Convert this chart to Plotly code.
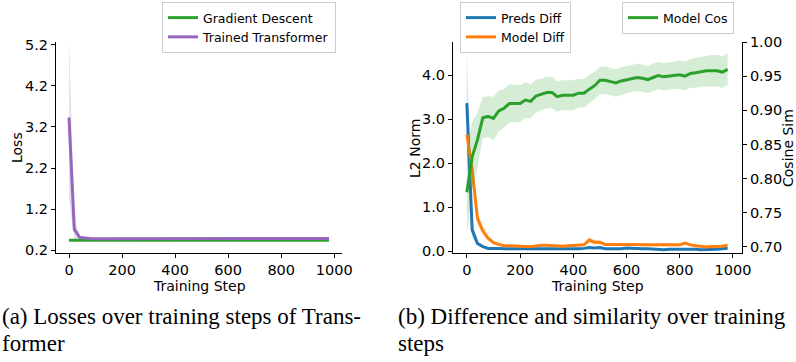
import plotly.graph_objects as go

steps = list(range(0, 1000, 20))

# Left panel: losses
gd_loss = [0.44] * 50
tt_loss = [3.43, 0.71, 0.51, 0.49, 0.485, 0.48, 0.48, 0.48, 0.48, 0.48,
           0.48, 0.48, 0.478, 0.478, 0.478, 0.478, 0.478, 0.478, 0.478, 0.48,
           0.48, 0.482, 0.485, 0.487, 0.488, 0.488, 0.485, 0.483, 0.482, 0.482,
           0.485, 0.487, 0.485, 0.483, 0.482, 0.48, 0.48, 0.48, 0.48, 0.48,
           0.482, 0.483, 0.483, 0.482, 0.482, 0.482, 0.483, 0.483, 0.483, 0.483]
tt_std = [2.0, 0.25, 0.06, 0.03, 0.02] + [0.015] * 45

# Right panel: L2 norms
preds_diff = [3.36, 0.48, 0.17, 0.10, 0.06, 0.065, 0.06, 0.05, 0.05, 0.05,
              0.04, 0.04, 0.04, 0.05, 0.05, 0.05, 0.04, 0.04, 0.05, 0.05,
              0.05, 0.05, 0.06, 0.08, 0.07, 0.08, 0.05, 0.05, 0.06, 0.05,
              0.07, 0.06, 0.05, 0.05, 0.05, 0.04, 0.03, 0.03, 0.04, 0.04,
              0.05, 0.05, 0.04, 0.04, 0.03, 0.03, 0.03, 0.04, 0.05, 0.06]
preds_std = [1.17, 0.18, 0.05, 0.03, 0.02] + [0.015] * 45
model_diff = [2.65, 1.85, 0.74, 0.46, 0.29, 0.19, 0.15, 0.12, 0.12, 0.11,
              0.11, 0.10, 0.10, 0.12, 0.13, 0.13, 0.12, 0.11, 0.11, 0.12,
              0.13, 0.13, 0.14, 0.25, 0.20, 0.20, 0.15, 0.15, 0.15, 0.15,
              0.16, 0.15, 0.15, 0.14, 0.14, 0.13, 0.13, 0.13, 0.13, 0.14,
              0.14, 0.18, 0.14, 0.12, 0.10, 0.09, 0.10, 0.10, 0.11, 0.13]
model_std = [0.06, 0.25, 0.15, 0.10, 0.06, 0.04, 0.03, 0.03, 0.03, 0.03,
             0.03, 0.03, 0.03, 0.03, 0.03, 0.03, 0.03, 0.03, 0.03, 0.03,
             0.03, 0.03, 0.03, 0.06, 0.06, 0.05, 0.03, 0.03, 0.03, 0.03,
             0.03, 0.03, 0.03, 0.03, 0.03, 0.03, 0.03, 0.03, 0.03, 0.03,
             0.03, 0.04, 0.03, 0.03, 0.03, 0.03, 0.03, 0.03, 0.03, 0.03]

# Right panel: cosine similarity
model_cos = [0.78, 0.832, 0.857, 0.889, 0.891, 0.888, 0.899, 0.903, 0.91, 0.91,
             0.91, 0.915, 0.913, 0.921, 0.923, 0.926, 0.926, 0.92, 0.922, 0.922,
             0.922, 0.925, 0.925, 0.931, 0.936, 0.944, 0.944, 0.942, 0.94, 0.943,
             0.945, 0.947, 0.948, 0.947, 0.945, 0.948, 0.951, 0.949, 0.95, 0.951,
             0.952, 0.95, 0.954, 0.955, 0.957, 0.958, 0.958, 0.958, 0.956, 0.96]
cos_std = [0.06, 0.05, 0.04, 0.03, 0.03, 0.032, 0.03, 0.028, 0.028, 0.027,
           0.027, 0.026, 0.025, 0.024, 0.023, 0.023, 0.023, 0.022, 0.022, 0.022,
           0.022, 0.021, 0.021, 0.021, 0.02, 0.02, 0.02, 0.02, 0.02, 0.02,
           0.02, 0.02, 0.02, 0.02, 0.02, 0.02, 0.02, 0.02, 0.02, 0.02,
           0.021, 0.021, 0.021, 0.022, 0.022, 0.022, 0.023, 0.023, 0.023, 0.023]

left_yticks = [0.2, 1.2, 2.2, 3.2, 4.2, 5.2]
l2_ticks = [0.0, 1.0, 2.0, 3.0, 4.0]
cos_ticks = [0.70, 0.75, 0.80, 0.85, 0.90, 0.95, 1.00]
xticks = [0, 200, 400, 600, 800, 1000]

GREEN = "#2ca02c"
PURPLE = "#9467bd"
BLUE = "#1f77b4"
ORANGE = "#ff7f0e"

W, H = 796, 362


def band(x, m, s, color, xa, ya):
    up = [a + b for a, b in zip(m, s)]
    lo = [a - b for a, b in zip(m, s)]
    return go.Scatter(x=list(x) + list(x)[::-1], y=up + lo[::-1], fill="toself",
                      fillcolor=color, line=dict(width=0), mode="lines",
                      hoverinfo="skip", showlegend=False, xaxis=xa, yaxis=ya)


fig = go.Figure()
# left
fig.add_trace(go.Scatter(x=steps, y=gd_loss, mode="lines", name="Gradient Descent",
                         line=dict(color=GREEN, width=3), xaxis="x", yaxis="y", legend="legend"))
fig.add_trace(band(steps, tt_loss, tt_std, "rgba(148,103,189,0.22)", "x", "y"))
fig.add_trace(go.Scatter(x=steps, y=tt_loss, mode="lines", name="Trained Transformer",
                         line=dict(color=PURPLE, width=3), xaxis="x", yaxis="y", legend="legend"))
# right L2
fig.add_trace(band(steps, preds_diff, preds_std, "rgba(31,119,180,0.2)", "x2", "y2"))
fig.add_trace(go.Scatter(x=steps, y=preds_diff, mode="lines", name="Preds Diff",
                         line=dict(color=BLUE, width=3), xaxis="x2", yaxis="y2", legend="legend2"))
fig.add_trace(band(steps, model_diff, model_std, "rgba(255,127,14,0.2)", "x2", "y2"))
fig.add_trace(go.Scatter(x=steps, y=model_diff, mode="lines", name="Model Diff",
                         line=dict(color=ORANGE, width=3), xaxis="x2", yaxis="y2", legend="legend2"))
# right cos
fig.add_trace(band(steps, model_cos, cos_std, "rgba(44,160,44,0.2)", "x2", "y3"))
fig.add_trace(go.Scatter(x=steps, y=model_cos, mode="lines", name="Model Cos",
                         line=dict(color=GREEN, width=3), xaxis="x2", yaxis="y3", legend="legend3"))

tickfont = dict(family="DejaVu Sans", size=14.5, color="black")
titlefont = dict(family="DejaVu Sans", size=14, color="black")
common = dict(showline=True, linecolor="black", linewidth=1, ticks="outside", ticklen=4,
              tickwidth=1, tickcolor="black", showgrid=False, zeroline=False, tickfont=tickfont,
              automargin=False)

ydom = [(H - 253) / H, (H - 42) / H]

legend_common = dict(xanchor="left", yanchor="top", bordercolor="#cccccc",
                     borderwidth=1, bgcolor="rgba(255,255,255,0.8)",
                     font=dict(family="DejaVu Sans", size=12.5, color="black"), tracegroupgap=0)

fig.update_layout(
    template="none",
    width=W, height=H, margin=dict(l=0, r=0, t=0, b=0, autoexpand=False),
    paper_bgcolor="white", plot_bgcolor="white",
    xaxis=dict(domain=[56 / W, 342 / W], range=[-49, 1029], tickvals=xticks, anchor="y", **common),
    yaxis=dict(domain=ydom, range=[0.13, 5.27], tickvals=left_yticks,
               ticktext=[f"{v:.1f}" for v in left_yticks], anchor="x", **common),
    xaxis2=dict(domain=[453 / W, 742 / W], range=[-52, 1034], tickvals=xticks, anchor="y2", **common),
    yaxis2=dict(domain=ydom, range=[-0.045, 4.75], tickvals=l2_ticks,
                ticktext=[f"{v:.1f}" for v in l2_ticks], anchor="x2", **common),
    yaxis3=dict(domain=ydom, range=[0.691, 1.0], tickvals=cos_ticks,
                ticktext=[f"{v:.2f}" for v in cos_ticks], anchor="x2", overlaying="y2",
                side="right", **common),
    legend=dict(x=162 / W, y=1 - 2 / H, **legend_common),
    legend2=dict(x=460 / W, y=1 - 2 / H, **legend_common),
    legend3=dict(x=622 / W, y=1 - 2 / H, **legend_common),
)

# axis titles placed as annotations for exact positioning
axis_titles = [
    ("Loss", 17, 148, -90),
    ("L2 Norm", 415, 148, -90),
    ("Cosine Sim", 788, 148, -90),
    ("Training Step", 199, 286, 0),
    ("Training Step", 597, 286, 0),
]
for text, x, y, ang in axis_titles:
    fig.add_annotation(text=text, x=x / W, y=1 - y / H, xref="paper", yref="paper",
                       xanchor="center", yanchor="middle", showarrow=False, textangle=ang,
                       font=titlefont, borderpad=0)

capfont = dict(family="Liberation Serif", size=23, color="black")
captions = [
    ("(a) Losses over training steps of Trans-", 0, 316),
    ("former", 0, 343),
    ("(b) Difference and similarity over training", 396, 316),
    ("steps", 396, 343),
]
for text, x, y in captions:
    fig.add_annotation(text=text, x=x / W, y=1 - y / H, xref="paper", yref="paper",
                       xanchor="left", yanchor="middle", showarrow=False, font=capfont)

fig.write_html("out.html")
